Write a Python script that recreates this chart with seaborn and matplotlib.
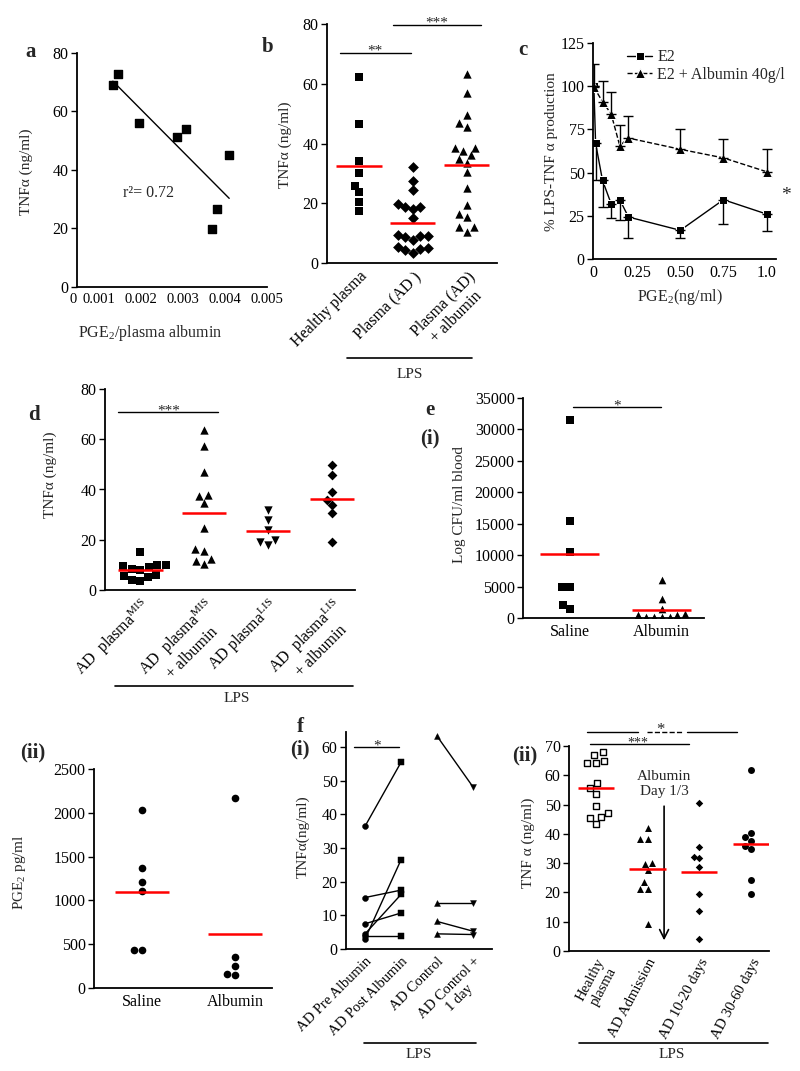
import matplotlib

matplotlib.use("Agg")
import matplotlib.pyplot as plt
from matplotlib.lines import Line2D
import numpy as np
import pandas as pd
import seaborn as sns

# -----------------------------------------------------------------------------
# Data
# -----------------------------------------------------------------------------
# a: TNFa vs PGE2/plasma albumin (x axis starts a bit above 0, labelled "0")
a_ratio = [0.00133, 0.00145, 0.00195, 0.00286, 0.00307, 0.00410, 0.00381, 0.00369]
a_tnf = [69.1, 72.8, 56.1, 51.3, 54.0, 45.1, 26.7, 19.8]
a_xmin = 0.000476
a_xticks = [a_xmin, 0.001, 0.002, 0.003, 0.004, 0.005]
a_xticklabels = ["0", "0.001", "0.002", "0.003", "0.004", "0.005"]

# b
b_cats = ["Healthy plasma", "Plasma (AD )", "Plasma (AD)\n+ albumin"]
b_healthy = [62.2, 46.5, 34.0, 30.1, 25.8, 23.6, 20.5, 17.3]
b_ad = [32.3, 27.6, 24.3, 19.8, 18.9, 18.9, 18.0, 15.0, 9.5, 9.0, 8.8, 9.2,
        7.8, 5.5, 5.0, 4.8, 4.5, 3.5]
b_ad_alb = [63.3, 57.0, 49.4, 46.7, 45.5, 38.5, 38.5, 37.5, 36.0, 34.8, 33.5,
            30.3, 25.0, 19.5, 16.5, 15.5, 12.0, 12.2, 10.5]

# c: % LPS-TNFa production vs PGE2 dose
e2_dose = [0, 0.01, 0.05, 0.1, 0.15, 0.2, 0.5, 0.75, 1.0]
e2_pct = [100, 67, 45.5, 32, 34.3, 24.3, 16.6, 34.3, 26]
e2_err_lo = [0, 21, 15.5, 8, 11.8, 12.3, 4.6, 14.3, 9.6]
alb_dose = [0, 0.05, 0.1, 0.15, 0.2, 0.5, 0.75, 1.0]
alb_pct = [99.5, 91, 84, 65.5, 70, 63.5, 58.5, 50.5]
alb_err_hi = [13.5, 12, 12.5, 12, 12.5, 11.5, 11, 13]
c_xticks = [0, 0.25, 0.5, 0.75, 1.0]
c_xticklabels = ["0", "0.25", "0.50", "0.75", "1.0"]

# d
d_cats = [r"AD  plasma$^{\mathrm{MIS}}$",
          "AD  plasma$^{\\mathrm{MIS}}$\n+ albumin",
          r"AD plasma$^{\mathrm{LIS}}$",
          "AD  plasma$^{\\mathrm{LIS}}$\n+ albumin"]
d_mis = [15, 10, 10, 9.5, 9, 8.5, 8, 6, 5.5, 5, 4, 3.5]
d_mis_alb = [63.8, 57.4, 46.9, 37.6, 38.0, 34.8, 24.6, 16.3, 15.7, 12.2, 11.7, 10.4]
d_lis = [32, 28, 24, 20, 19, 18]
d_lis_alb = [49.6, 45.9, 39.0, 35.9, 33.9, 30.6, 19.3]

# e(i) CFU, e(ii) PGE2
e_cats = ["Saline", "Albumin"]
e_cfu_saline = [31500, 15500, 10500, 5000, 5000, 2000, 1500]
e_cfu_albumin = [6000, 3000, 1500, 500, 100, 600, 100, 500, 100, 100]
e_pge_saline = [2028, 1370, 1210, 1111, 437, 437]
e_pge_albumin = [2169, 354, 247, 145, 164]

# f(i) paired samples
f1_cats = ["AD Pre Albumin", "AD Post Albumin", "AD Control", "AD Control +\n1 day"]
f1_pre = [36.5, 15.3, 7.5, 4.5, 3.0, 3.8]
f1_post = [55.5, 17.5, 10.7, 16.2, 26.5, 3.8]
f1_ctrl = [63.3, 13.7, 8.2, 4.5]
f1_ctrl_1d = [48.2, 13.7, 5.3, 4.3]

# f(ii)
f2_cats = ["Healthy\nplasma", "AD Admission", "AD 10-20 days", "AD 30-60 days"]
f2_healthy = [67.8, 66.9, 65.0, 64.1, 64.3, 57.2, 55.5, 53.5, 49.5, 47.2, 45.8, 45.5, 43.4]
f2_admission = [42.1, 38.2, 38.2, 30.2, 29.8, 27.6, 23.4, 21.3, 21.3, 9.1]
f2_d10 = [50.7, 35.6, 31.6, 32.0, 28.7, 19.3, 13.6, 4.2]
f2_d30 = [61.8, 40.3, 38.9, 37.6, 34.7, 35.9, 24.1, 19.4]

# -----------------------------------------------------------------------------
# Style / helpers
# -----------------------------------------------------------------------------
sns.set_theme(style="ticks")
plt.rcParams["font.family"] = ["Liberation Serif", "DejaVu Serif"]
plt.rcParams["mathtext.fontset"] = "custom"
plt.rcParams["mathtext.rm"] = "Liberation Serif"
plt.rcParams["mathtext.it"] = "Liberation Serif:italic"
plt.rcParams["mathtext.bf"] = "Liberation Serif:bold"

W, H = 800, 1071
FS = 11
TFS = 11.5
fig = plt.figure(figsize=(W / 100, H / 100), dpi=100)


def add_ax(l, t, r, b):
    return fig.add_axes([l / W, 1 - b / H, (r - l) / W, (b - t) / H])


def ftext(x, y, s, **kw):
    kw.setdefault("fontsize", FS)
    fig.text(x / W, 1 - y / H, s, **kw)


def fline(x0, x1, y):
    fig.add_artist(Line2D([x0 / W, x1 / W], [1 - y / H] * 2, color="black",
                          lw=1.2, transform=fig.transFigure))


def ylab(x, y, s):
    ftext(x, y, s, rotation=90, ha="center", va="center")


def style(ax, xfs=TFS):
    sns.despine(ax=ax)
    ax.tick_params(axis="y", direction="out", length=4, width=1, labelsize=TFS,
                   pad=2, colors="black")
    ax.tick_params(axis="x", length=0, labelsize=xfs, pad=4, colors="black")
    for s in ("left", "bottom"):
        ax.spines[s].set_linewidth(1.3)
        ax.spines[s].set_color("black")


def stars_at(ax, x, y, stars, fs=FS):
    ax.annotate(stars, (x, y), xytext=(0, -1.5), textcoords="offset points",
                ha="center", va="baseline", fontsize=fs, annotation_clip=False)


def sig(ax, x0, x1, y, stars, ls="-"):
    ax.plot([x0, x1], [y, y], color="black", lw=1, ls=ls, clip_on=False)
    if stars:
        stars_at(ax, (x0 + x1) / 2, y, stars)


def swarm(ax, cats, groups, markers, sizes, hw, face=None):
    for i, (vals, m, sz) in enumerate(zip(groups, markers, sizes)):
        kw = dict(color="black")
        if face is not None and face[i] == "open":
            kw = dict(color="white", edgecolor="black", linewidth=1)
        sns.swarmplot(x=[cats[i]] * len(vals), y=vals, order=cats, marker=m,
                      size=sz, ax=ax, **kw)
        ax.hlines(np.mean(vals), i - hw, i + hw, color="red", lw=1.8, zorder=5)


def cat_labels(ax, cats, rot):
    ax.set_xticks(range(len(cats)))
    ax.set_xticklabels(cats, rotation=rot, ha="right", rotation_mode="anchor",
                       multialignment="center")
    ax.set_xlabel("")


# -----------------------------------------------------------------------------
# a
# -----------------------------------------------------------------------------
ax = add_ax(77, 53, 267, 287)
sns.regplot(x=a_ratio, y=a_tnf, ci=None, marker="s", color="black",
            scatter_kws={"s": 30, "alpha": 1}, line_kws={"lw": 1}, ax=ax)
ax.set_xlim(a_xmin, 0.005)
ax.set_ylim(0, 80)
ax.set_yticks(range(0, 81, 20))
ax.set_xticks(a_xticks)
ax.set_xticklabels(a_xticklabels)
style(ax, xfs=10.5)
ax.get_xticklabels()[0].set_horizontalalignment("right")
ax.text(0.00157, 32, "r²= 0.72", fontsize=FS + 0.5, va="center")
ylab(26, 172, "TNFα (ng/ml)")
ftext(150, 333, "PGE$_2$/plasma albumin", ha="center", va="center", fontsize=FS + 0.5)
ftext(25, 52, "a", fontsize=15, fontweight="bold", va="center")

# -----------------------------------------------------------------------------
# b
# -----------------------------------------------------------------------------
ax = add_ax(327, 24, 497, 263)
swarm(ax, b_cats, [b_healthy, b_ad, b_ad_alb], ["s", "D", "^"], [5.5, 5.5, 6], 0.42)
ax.set_xlim(-0.59, 2.56)
ax.set_ylim(0, 80)
ax.set_yticks(range(0, 81, 20))
cat_labels(ax, b_cats, 45)
style(ax)
sig(ax, -0.35, 0.96, 70.4, "**")
sig(ax, 0.63, 2.26, 79.7, "***")
ylab(285, 145, "TNFα (ng/ml)")
fline(347, 472, 358)
ftext(410, 374, "LPS", ha="center", va="center")
ftext(262, 47, "b", fontsize=15, fontweight="bold", va="center")

# -----------------------------------------------------------------------------
# c
# -----------------------------------------------------------------------------
ax = add_ax(593, 43, 776, 259)
sns.lineplot(x=e2_dose, y=e2_pct, marker="s", markersize=6, color="black",
             lw=1, label="E2", ax=ax)
sns.lineplot(x=alb_dose, y=alb_pct, marker="^", markersize=6.5, color="black",
             lw=1, linestyle="--", label="E2 + Albumin 40g/l", ax=ax)
ax.errorbar(e2_dose, e2_pct, yerr=[e2_err_lo, [0] * len(e2_dose)], fmt="none",
            ecolor="black", elinewidth=1, capsize=3.5)
ax.errorbar(alb_dose, alb_pct, yerr=[[0] * len(alb_dose), alb_err_hi], fmt="none",
            ecolor="black", elinewidth=1, capsize=3.5)
ax.set_xlim(-0.005, 1.054)
ax.set_ylim(0, 125)
ax.set_yticks(range(0, 126, 25))
ax.set_xticks(c_xticks)
ax.set_xticklabels(c_xticklabels)
style(ax)
ax.legend(frameon=False, loc="upper left", bbox_to_anchor=(0.15, 1.0),
          fontsize=FS + 0.5, handlelength=1.6, handletextpad=0.3,
          borderaxespad=0, labelspacing=0.1)
ylab(552, 152, "% LPS-TNF α production")
ftext(680, 297, "PGE$_2$(ng/ml)", ha="center", va="center", fontsize=FS + 0.5)
ftext(786, 196, "*", ha="center", va="center", fontsize=14)
ftext(518, 50, "c", fontsize=15, fontweight="bold", va="center")

# -----------------------------------------------------------------------------
# d
# -----------------------------------------------------------------------------
ax = add_ax(105, 389, 355, 590)
swarm(ax, d_cats, [d_mis, d_mis_alb, d_lis, d_lis_alb], ["s", "^", "v", "D"],
      [6, 6, 6, 5], 0.35)
ax.set_xlim(-0.55, 3.36)
ax.set_ylim(0, 80)
ax.set_yticks(range(0, 81, 20))
cat_labels(ax, d_cats, 45)
style(ax)
sig(ax, -0.34, 1.22, 70.7, "***")
ylab(50, 475, "TNFα (ng/ml)")
fline(115, 353, 686)
ftext(237, 698, "LPS", ha="center", va="center")
ftext(28, 415, "d", fontsize=15, fontweight="bold", va="center")

# -----------------------------------------------------------------------------
# e(i)
# -----------------------------------------------------------------------------
ax = add_ax(523, 398, 704, 618)
swarm(ax, e_cats, [e_cfu_saline, e_cfu_albumin], ["s", "^"], [5.5, 5.5], 0.32)
ax.set_xlim(-0.51, 1.46)
ax.set_ylim(0, 35000)
ax.set_yticks(range(0, 35001, 5000))
ax.set_xticks(range(2))
ax.set_xticklabels(e_cats)
ax.set_xlabel("")
style(ax)
sig(ax, 0.03, 0.99, 33500, "*")
ylab(460, 505, "Log CFU/ml blood")
ftext(430, 410, "e", fontsize=15, fontweight="bold", ha="center", va="center")
ftext(430, 438, "(i)", fontsize=15, fontweight="bold", ha="center", va="center")

# -----------------------------------------------------------------------------
# e(ii)
# -----------------------------------------------------------------------------
ax = add_ax(94, 769, 272, 988)
swarm(ax, e_cats, [e_pge_saline, e_pge_albumin], ["o", "o"], [5.5, 5.5], 0.29)
ax.set_xlim(-0.52, 1.4)
ax.set_ylim(0, 2500)
ax.set_yticks(range(0, 2501, 500))
ax.set_xticks(range(2))
ax.set_xticklabels(e_cats)
ax.set_xlabel("")
style(ax)
ylab(20, 872, "PGE$_2$ pg/ml")
ftext(33, 752, "(ii)", fontsize=15, fontweight="bold", ha="center", va="center")

# -----------------------------------------------------------------------------
# f(i)
# -----------------------------------------------------------------------------
ax = add_ax(346, 732, 492, 949)
pairs = pd.DataFrame({
    "pos": [0] * len(f1_pre) + [1] * len(f1_post) + [2] * len(f1_ctrl) + [3] * len(f1_ctrl_1d),
    "tnf": f1_pre + f1_post + f1_ctrl + f1_ctrl_1d,
    "pair": list(range(len(f1_pre))) * 2 + list(range(10, 10 + len(f1_ctrl))) * 2,
})
sns.lineplot(data=pairs, x="pos", y="tnf", units="pair", estimator=None,
             color="black", lw=1, ax=ax)
for pos, vals, m in zip(range(4), [f1_pre, f1_post, f1_ctrl, f1_ctrl_1d],
                        ["o", "s", "^", "v"]):
    sns.scatterplot(x=[pos] * len(vals), y=vals, marker=m, s=18, color="black",
                    edgecolor="black", ax=ax, zorder=4)
ax.set_xlim(-0.53, 3.53)
ax.set_ylim(0, 64.5)
ax.set_yticks(range(0, 61, 10))
cat_labels(ax, f1_cats, 45)
ax.set_ylabel("")
style(ax, xfs=10.5)
sig(ax, -0.3, 0.95, 60, "*")
ylab(303, 837, "TNFα(ng/ml)")
fline(364, 476, 1043)
ftext(419, 1055, "LPS", ha="center", va="center")
ftext(300, 727, "f", fontsize=15, fontweight="bold", ha="center", va="center")
ftext(300, 749, "(i)", fontsize=15, fontweight="bold", ha="center", va="center")

# -----------------------------------------------------------------------------
# f(ii)
# -----------------------------------------------------------------------------
ax = add_ax(569, 746, 769, 951)
swarm(ax, f2_cats, [f2_healthy, f2_admission, f2_d10, f2_d30],
      ["s", "^", "D", "o"], [5, 5, 3.8, 5], 0.35,
      face=["open", "fill", "fill", "fill"])
ax.set_xlim(-0.52, 3.35)
ax.set_ylim(0, 70)
ax.set_yticks(range(0, 71, 10))
cat_labels(ax, f2_cats, 62)
style(ax, xfs=10.5)
sig(ax, -0.12, 1.80, 70.6, "")
stars_at(ax, 0.81, 70.6, "***", fs=10)
sig(ax, -0.17, 0.81, 74.7, "")
sig(ax, 0.99, 1.66, 74.7, "", ls="--")
sig(ax, 1.76, 2.73, 74.7, "")
stars_at(ax, 1.25, 74.7, "*", fs=FS + 1)
ax.annotate("", xy=(1.32, 2.7), xytext=(1.32, 50.4),
            arrowprops=dict(arrowstyle="->", color="black", lw=1.2,
                            mutation_scale=16))
ax.text(1.32, 57, "Albumin\nDay 1/3", ha="center", va="center", fontsize=FS)
ylab(528, 843, "TNF α (ng/ml)")
fline(579, 768, 1043)
ftext(672, 1055, "LPS", ha="center", va="center")
ftext(525, 755, "(ii)", fontsize=15, fontweight="bold", ha="center", va="center")

fig.savefig("out.png", dpi=100)
plt.close(fig)
